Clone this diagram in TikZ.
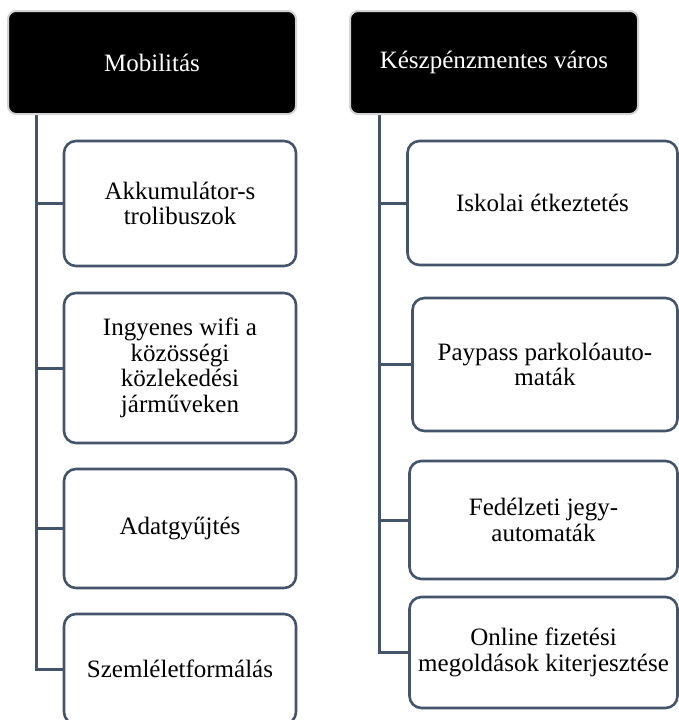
\documentclass[tikz,border=0pt]{standalone}
\usepackage{fontspec}
\setmainfont{Liberation Serif}
\usetikzlibrary{backgrounds}
\definecolor{slate}{HTML}{44546A}
\definecolor{headline}{HTML}{D4D4D4}
\begin{document}
\begin{tikzpicture}[x=1pt,y=-1pt,
  header/.style={draw=headline, line width=2pt, fill=black, text=white,
    rounded corners=8pt, inner sep=0pt, align=center,
    font=\fontsize{25}{25.5}\selectfont},
  item/.style={draw=slate, line width=2.6pt, fill=white,
    rounded corners=12pt, inner sep=0pt, align=center,
    font=\fontsize{25}{25.5}\selectfont},
  conn/.style={draw=slate, line width=3pt}]
\clip (0,0) rectangle (679,720);
\useasboundingbox (0,0) rectangle (679,720);

% column headers
\node[header, minimum width=288pt, minimum height=103pt] (hL) at (152,62.5) {Mobilitás};
\node[header, minimum width=288pt, minimum height=103pt] (hR) at (494,62.5) {Készpénzmentes város};

% left column items
\node[item, minimum width=232pt, minimum height=125pt] (l1) at (180,203.5) {Akkumulátor-s\\trolibuszok};
\node[item, minimum width=232pt, minimum height=150pt] (l2) at (180,368) {Ingyenes wifi a\\közösségi\\közlekedési\\járműveken};
\node[item, minimum width=232pt, minimum height=119pt] (l3) at (180,528.5) {Adatgyűjtés};
\node[item, minimum width=232pt, minimum height=110pt] (l4) at (180,669) {Szemléletformálás};

% right column items
\node[item, minimum width=270pt, minimum height=124pt] (r1) at (542.5,203) {Iskolai étkeztetés};
\node[item, minimum width=265pt, minimum height=133pt] (r2) at (545,364.5) {Paypass parkolóauto-\\maták};
\node[item, minimum width=268pt, minimum height=118pt] (r3) at (543.5,520) {Fedélzeti jegy-\\automaták};
\node[item, minimum width=268pt, minimum height=111pt] (r4) at (543.5,652.5) {Online fizetési\\megoldások kiterjesztése};

% trunk positions
\coordinate (tL) at (36,0);
\coordinate (tR) at (379,0);

\begin{pgfonlayer}{background}
  \draw[conn] (tL |- hL.south) |- (l4.west);
  \foreach \i in {1,2,3} \draw[conn] (tL |- l\i.west) -- (l\i.west);
  \draw[conn] (tR |- hR.south) |- (r4.west);
  \foreach \i in {1,2,3} \draw[conn] (tR |- r\i.west) -- (r\i.west);
\end{pgfonlayer}
\end{tikzpicture}
\end{document}
